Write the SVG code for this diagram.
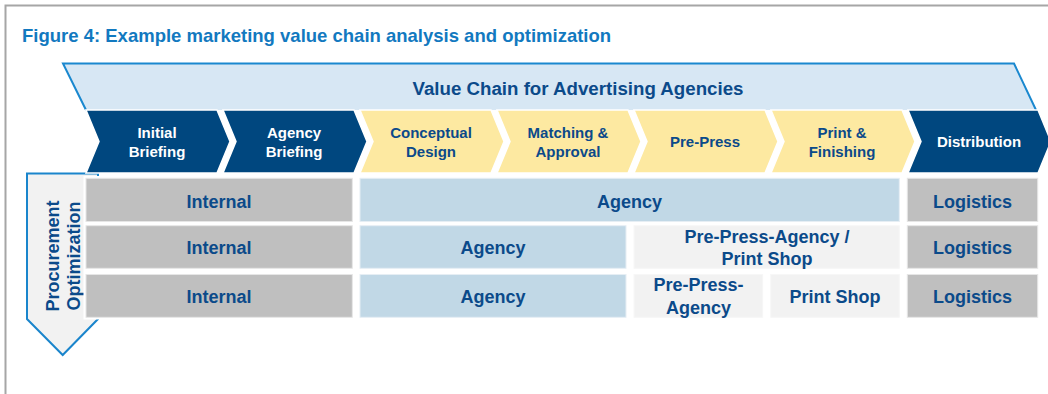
<svg xmlns="http://www.w3.org/2000/svg" width="1048" height="394" viewBox="0 0 1048 394">
  <defs>
    <style>
      .frame { fill: none; stroke: #a6a6a6; stroke-width: 2; }
      .title { font-family: "Liberation Sans", Arial, sans-serif; font-weight: bold; font-size: 18.5px; fill: #1279c0; }
      .banner { fill: #d7e7f4; }
      .bannerEdge { fill: none; stroke: #1a88cf; stroke-width: 2; }
      .bannerText { font-family: "Liberation Sans", Arial, sans-serif; font-weight: bold; font-size: 18.7px; fill: #0b4a8a; text-anchor: middle; }
      .chevDark { fill: #00477f; stroke: #ffffff; stroke-width: 1.5; }
      .chevYellow { fill: #fde9a1; stroke: #ffffff; stroke-width: 1.5; }
      .chevTextW { font-family: "Liberation Sans", Arial, sans-serif; font-weight: bold; font-size: 15px; fill: #ffffff; text-anchor: middle; }
      .chevTextB { font-family: "Liberation Sans", Arial, sans-serif; font-weight: bold; font-size: 15px; fill: #0b4a8a; text-anchor: middle; }
      .arrow { fill: #f2f2f2; stroke: #1a85cc; stroke-width: 2; }
      .arrowText { font-family: "Liberation Sans", Arial, sans-serif; font-weight: bold; font-size: 18px; fill: #0b4a8a; text-anchor: middle; }
      .gray { fill: #bfbfbf; stroke: #e6e6e6; stroke-width: 1; }
      .blue { fill: #c1d8e6; stroke: #e6eef4; stroke-width: 1; }
      .light { fill: #f2f2f2; stroke: #f7f7f7; stroke-width: 1; }
      .rowText { font-family: "Liberation Sans", Arial, sans-serif; font-weight: bold; font-size: 18px; fill: #0b4a8a; text-anchor: middle; }
    </style>
  </defs>

  <rect width="1048" height="394" fill="#ffffff"/>
  <polyline class="frame" points="5.5,394 5.5,5.5 1048,5.5"/>

  <text id="title" class="title" x="22" y="42.3">Figure 4: Example marketing value chain analysis and optimization</text>

  <g id="banner">
    <polygon class="banner" points="63,63.5 1014,63.5 1036,110 86,110"/>
    <polyline class="bannerEdge" points="86,110 63,63.5 1014,63.5 1036,110"/>
    <text class="bannerText" x="578" y="94.5">Value Chain for Advertising Agencies</text>
  </g>

  <g id="procurement">
    <polygon class="arrow" points="27,173.5 98,173.5 98,319 62.7,355 27,319"/>
    <text class="arrowText" transform="translate(59,256) rotate(-90)">Procurement</text>
    <text class="arrowText" transform="translate(80,256) rotate(-90)">Optimization</text>
  </g>

  <rect x="83.5" y="176" width="17" height="143.5" fill="#ffffff"/>

  <g id="chev-initial-briefing">
    <polygon class="chevDark" points="86,110 217,110 230,141.5 217,173 86,173 99,141.5"/>
    <text class="chevTextW" x="157" y="138.3">Initial</text>
    <text class="chevTextW" x="157" y="156.7">Briefing</text>
  </g>
  <g id="chev-agency-briefing">
    <polygon class="chevDark" points="223,110 354,110 367,141.5 354,173 223,173 236,141.5"/>
    <text class="chevTextW" x="294" y="138.3">Agency</text>
    <text class="chevTextW" x="294" y="156.7">Briefing</text>
  </g>
  <g id="chev-conceptual-design">
    <polygon class="chevYellow" points="360,110 491,110 504,141.5 491,173 360,173 373,141.5"/>
    <text class="chevTextB" x="431" y="138.3">Conceptual</text>
    <text class="chevTextB" x="431" y="156.7">Design</text>
  </g>
  <g id="chev-matching-approval">
    <polygon class="chevYellow" points="497,110 628,110 641,141.5 628,173 497,173 510,141.5"/>
    <text class="chevTextB" x="568" y="138.3">Matching &amp;</text>
    <text class="chevTextB" x="568" y="156.7">Approval</text>
  </g>
  <g id="chev-pre-press">
    <polygon class="chevYellow" points="634,110 765,110 778,141.5 765,173 634,173 647,141.5"/>
    <text class="chevTextB" x="705" y="146.7">Pre-Press</text>
  </g>
  <g id="chev-print-finishing">
    <polygon class="chevYellow" points="771,110 902,110 915,141.5 902,173 771,173 784,141.5"/>
    <text class="chevTextB" x="842" y="138.3">Print &amp;</text>
    <text class="chevTextB" x="842" y="156.7">Finishing</text>
  </g>
  <g id="chev-distribution">
    <polygon class="chevDark" points="908,110 1038,110 1051,141.5 1038,173 908,173 921,141.5"/>
    <text class="chevTextW" x="979" y="146.7">Distribution</text>
  </g>

  <g id="row1">
    <g id="r1-internal">
      <rect class="gray" x="86" y="178.3" width="266.3" height="43.2"/>
      <text class="rowText" x="219" y="207.7">Internal</text>
    </g>
    <g id="r1-agency">
      <rect class="blue" x="360" y="178.3" width="539.3" height="43.2"/>
      <text class="rowText" x="629.5" y="207.7">Agency</text>
    </g>
    <g id="r1-logistics">
      <rect class="gray" x="907.3" y="178.3" width="130.4" height="43.2"/>
      <text class="rowText" x="972.5" y="207.7">Logistics</text>
    </g>
  </g>

  <g id="row2">
    <g id="r2-internal">
      <rect class="gray" x="86" y="225.7" width="266.3" height="42.6"/>
      <text class="rowText" x="219" y="254.3">Internal</text>
    </g>
    <g id="r2-agency">
      <rect class="blue" x="360" y="225.7" width="266" height="42.6"/>
      <text class="rowText" x="493" y="254.3">Agency</text>
    </g>
    <g id="r2-prepress-printshop">
      <rect class="light" x="634" y="225.7" width="265.3" height="42.6"/>
      <text class="rowText" x="767" y="242.7">Pre-Press-Agency /</text>
      <text class="rowText" x="767" y="265">Print Shop</text>
    </g>
    <g id="r2-logistics">
      <rect class="gray" x="907.3" y="225.7" width="130.4" height="42.6"/>
      <text class="rowText" x="972.5" y="254.3">Logistics</text>
    </g>
  </g>

  <g id="row3">
    <g id="r3-internal">
      <rect class="gray" x="86" y="274.5" width="266.3" height="42.8"/>
      <text class="rowText" x="219" y="302.7">Internal</text>
    </g>
    <g id="r3-agency">
      <rect class="blue" x="360" y="274.5" width="266" height="42.8"/>
      <text class="rowText" x="493" y="302.7">Agency</text>
    </g>
    <g id="r3-prepress-agency">
      <rect class="light" x="634" y="274.5" width="128.7" height="42.8"/>
      <text class="rowText" x="698.5" y="290.7">Pre-Press-</text>
      <text class="rowText" x="698.5" y="314">Agency</text>
    </g>
    <g id="r3-printshop">
      <rect class="light" x="770.7" y="274.5" width="128.6" height="42.8"/>
      <text class="rowText" x="835" y="302.7">Print Shop</text>
    </g>
    <g id="r3-logistics">
      <rect class="gray" x="907.3" y="274.5" width="130.4" height="42.8"/>
      <text class="rowText" x="972.5" y="302.7">Logistics</text>
    </g>
  </g>

  <g id="connectors"/>
</svg>
